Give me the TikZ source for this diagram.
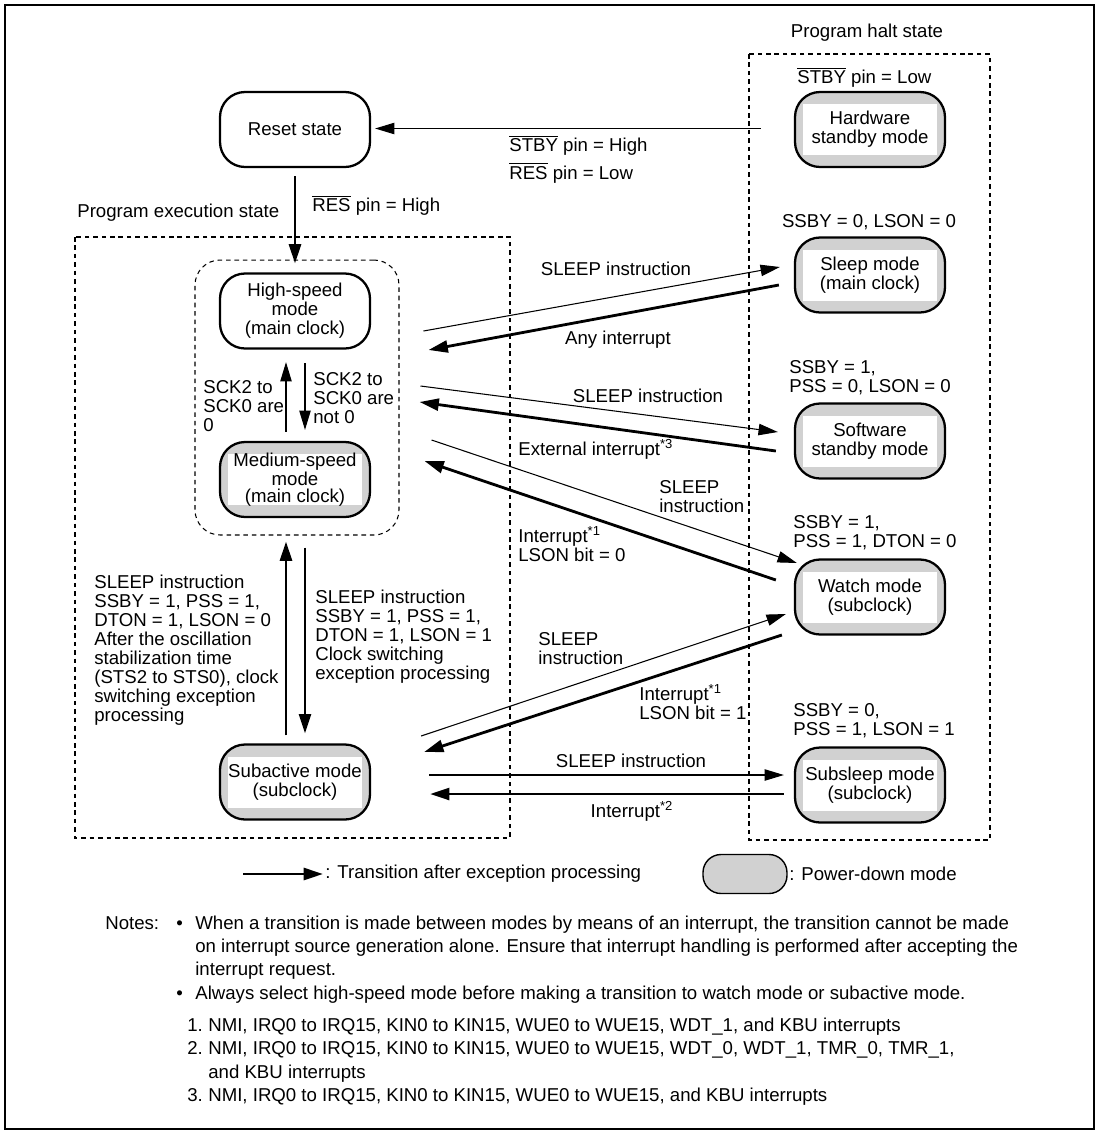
\documentclass[tikz,border=0pt]{standalone}
\usepackage{fontspec}
\setmainfont{Liberation Sans}
\usepackage{tikz}
\usetikzlibrary{arrows.meta, positioning, calc}

\newcommand{\barsig}[1]{$\overline{\mbox{#1}}$}

\begin{document}
\begin{tikzpicture}[
    x=0.02cm, y=-0.02cm,
    every node/.style = {font=\fontsize{10.6}{10.8}\selectfont, inner sep=0pt},
    mode/.style = {rectangle, rounded corners=0.5cm, draw=black, line width=1.3pt, minimum width=3cm, minimum height=1.5cm, align=center, fill=white},
    pdmode/.style = {mode, fill=black!18, path picture={\fill[white, sharp corners] ([xshift=0.16cm, yshift=0.24cm]path picture bounding box.south west) rectangle ([xshift=-0.16cm, yshift=-0.24cm]path picture bounding box.north east);}},
    area/.style = {draw=black, line width=0.6pt, dash pattern=on 2.6pt off 2.2pt},
    go/.style = {-{Triangle[length=11pt, width=6.5pt]}, line width=0.6pt},
    back/.style = {-{Triangle[length=11pt, width=6.8pt]}, line width=1.6pt},
]
\useasboundingbox (0,0) rectangle (1100,1134);
\draw[line width=0.9pt] (5,5) rectangle (1094,1129);

% state areas
\draw[area] (75,237) rectangle (510,838);
\draw[area] (749,54) rectangle (990,840);
\node [anchor=west] (exlbl) at (77,213) {Program execution state};
\node (haltlbl) at (867,33) {Program halt state};
\node [area, rounded corners=0.5cm, minimum width=4.08cm, minimum height=5.5cm] (grp) at (297,397.5) {};

% modes
\node [mode] (reset) at (295,129.5) {Reset state};
\node [mode] (high) at (295,311) {High-speed\\mode\\(main clock)};
\node [pdmode, font=\fontsize{10.6}{9.4}\selectfont] (medium) at (295,479.5) {Medium-speed\\mode\\(main clock)};
\node [pdmode] (subact) at (295,782) {Subactive mode\\(subclock)};

\node [pdmode] (hwstby) at (870,129.5) {Hardware\\standby mode};
\node [pdmode] (sleep) at (870,275) {Sleep mode\\(main clock)};
\node [pdmode] (swstby) at (870,441) {Software\\standby mode};
\node [pdmode] (watch) at (870,597) {Watch mode\\(subclock)};
\node [pdmode] (subsleep) at (870,785) {Subsleep mode\\(subclock)};

% register settings
\node [anchor=west] (stbylow) at (797,77) {\barsig{STBY} pin = Low};
\node (sleepset) at (869,222) {SSBY = 0, LSON = 0};
\node [anchor=west, align=left] (swset) at (789,378) {SSBY = 1,\\PSS = 0, LSON = 0};
\node [anchor=west, align=left] (watchset) at (793,533) {SSBY = 1,\\PSS = 1, DTON = 0};
\node [anchor=west, align=left] (subslset) at (793,721) {SSBY = 0,\\PSS = 1, LSON = 1};

% reset transitions
\draw[go] ($(hwstby.west)+(-33,-1)$) -- ($(reset.east)+(4,-1)$);
\node [anchor=west, align=left] (stbyhigh) at (509,159) {\barsig{STBY} pin = High\\[3pt]\barsig{RES} pin = Low};
\draw[back] ($(reset.south)+(0,8)$) -- ($(reset.south |- grp.north)+(0,4)$);
\node [anchor=west] (reshigh) at (312,205) {\barsig{RES} pin = High};

% main clock
\draw[go] ($(medium.north)+(-9,-9)$) -- ($(high.south)+(-9,12.5)$);
\draw[go] ($(high.south)+(10,13.5)$) -- ($(medium.north)+(10,-11)$);
\node [anchor=west, align=left] (sckzero) at (203,406) {SCK2 to\\SCK0 are\\0};
\node [anchor=west, align=left] (scknot) at (313,398) {SCK2 to\\SCK0 are\\not 0};

% main clock <-> subclock
\draw[back] ($(subact.north)+(-9,-8)$) -- ($(grp.south)+(-11,6)$);
\draw[back] ($(grp.south)+(8,12)$) -- ($(subact.north)+(10,-10)$);
\node [anchor=west, align=left] (tomain) at (94,650) {SLEEP instruction\\SSBY = 1, PSS = 1,\\DTON = 1, LSON = 0\\After the oscillation\\stabilization time\\(STS2 to STS0), clock\\switching exception\\processing};
\node [anchor=west, align=left] (tosub) at (315,637) {SLEEP instruction\\SSBY = 1, PSS = 1,\\DTON = 1, LSON = 1\\Clock switching\\exception processing};

% into and out of power-down modes
\draw[go] ($(grp.east)+(24,-66.5)$) -- ($(sleep.west)+(-14,-8)$);
\node (sleepin) at (616,269) {SLEEP instruction};
\draw[back] ($(sleep.west)+(-15,10)$) -- ($(grp.east)+(29,-47.5)$);
\node (sleepout) at (618,340) {Any interrupt};

\draw[go] ($(grp.east)+(21,-11.5)$) -- ($(swstby.west)+(-16,-9)$);
\node (swin) at (648,396) {SLEEP instruction};
\draw[back] ($(swstby.west)+(-18,10)$) -- ($(grp.east)+(20,4.5)$);
\node [anchor=west] (swout) at (518,449) {External interrupt\textsuperscript{*3}};

\draw[go] ($(grp.east)+(32,42.5)$) -- ($(watch.west)+(3,-34)$);
\node [anchor=west, align=left] (watchin) at (659,496.5) {SLEEP\\instruction};
\draw[back] ($(watch.west)+(-18,-17)$) -- ($(grp.east)+(25,63.5)$);
\node [anchor=west, align=left] (watchout) at (518,544) {Interrupt\textsuperscript{*1}\\LSON bit = 0};

\draw[go] ($(subact.east)+(50,-46)$) -- ($(watch.west)+(-8,17)$);
\node [anchor=west, align=left] (watchin2) at (538,649) {SLEEP\\instruction};
\draw[back] ($(watch.west)+(-12,38)$) -- ($(subact.east)+(53,-30)$);
\node [anchor=west, align=left] (watchout2) at (639,702) {Interrupt\textsuperscript{*1}\\LSON bit = 1};

\draw[go] ($(subact.east)+(58,-7)$) -- ($(subsleep.west)+(-10,-10)$);
\node (subslin) at (631,761) {SLEEP instruction};
\draw[back] ($(subsleep.west)+(-10,9)$) -- ($(subact.east)+(59,12)$);
\node (subslout) at (632,811) {Interrupt\textsuperscript{*2}};

% legend
\coordinate (lgs) at (243,874);
\coordinate (lge) at (323,874);
\draw[back] (lgs) -- (lge);
\node [anchor=west] (lgtxt) at (325,874) {: Transition after exception processing};
\node [rectangle, rounded corners=0.36cm, fill=black!18, draw=black, line width=0.8pt, minimum width=1.68cm, minimum height=0.78cm] (lgbox) at (745,874) {};
\node [anchor=west] (lgpd) at (789,874) {: Power-down mode};

% notes
\node [anchor=base west] (nt) at (105,929) {Notes:};
\node [anchor=base west] (nb1) at (176,929) {•};
\node [anchor=base west] (n1a) at (195,929) {When a transition is made between modes by means of an interrupt, the transition cannot be made};
\node [anchor=base west] (n1b) at (195,952) {on interrupt source generation alone. Ensure that interrupt handling is performed after accepting the};
\node [anchor=base west] (n1c) at (195,975) {interrupt request.};
\node [anchor=base west] (nb2) at (176,999) {•};
\node [anchor=base west] (n2a) at (195,999) {Always select high-speed mode before making a transition to watch mode or subactive mode.};
\node [anchor=base west] (nn1) at (187,1031) {1.};
\node [anchor=base west] (f1) at (208,1031) {NMI, IRQ0 to IRQ15, KIN0 to KIN15, WUE0 to WUE15, WDT\_1, and KBU interrupts};
\node [anchor=base west] (nn2) at (187,1054) {2.};
\node [anchor=base west] (f2a) at (208,1054) {NMI, IRQ0 to IRQ15, KIN0 to KIN15, WUE0 to WUE15, WDT\_0, WDT\_1, TMR\_0, TMR\_1,};
\node [anchor=base west] (f2b) at (208,1078) {and KBU interrupts};
\node [anchor=base west] (nn3) at (187,1101) {3.};
\node [anchor=base west] (f3) at (208,1101) {NMI, IRQ0 to IRQ15, KIN0 to KIN15, WUE0 to WUE15, and KBU interrupts};

\end{tikzpicture}
\end{document}
